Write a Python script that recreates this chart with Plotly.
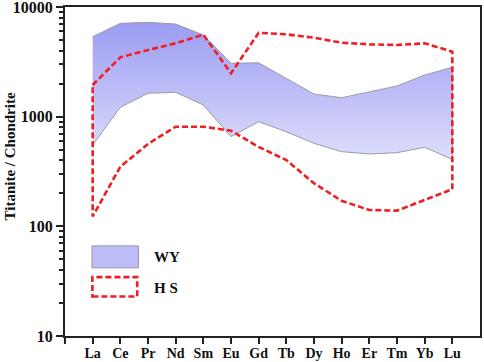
import plotly.graph_objects as go

elements = ["La", "Ce", "Pr", "Nd", "Sm", "Eu", "Gd", "Tb", "Dy", "Ho", "Er", "Tm", "Yb", "Lu"]
wy_upper = [5360, 7100, 7250, 7000, 5560, 3070, 3100, 2245, 1610, 1490, 1680, 1905, 2400, 2820]
wy_lower = [552, 1218, 1635, 1667, 1280, 658, 900, 729, 572, 480, 457, 470, 526, 409]
hs_upper = [1945, 3480, 4055, 4670, 5600, 2490, 5830, 5640, 5250, 4730, 4570, 4510, 4670, 3920]
hs_lower = [123, 350, 564, 811, 811, 745, 530, 402, 247, 171, 141, 139, 174, 218]
y_ticks = [10, 100, 1000, 10000]

xs = list(range(1, len(elements) + 1))
minor_vals = [m * d for d in y_ticks[:-1] for m in range(2, 10)]
FONT = "Liberation Serif"
RED = "#f01e23"

fig = go.Figure()
fig.add_trace(go.Scatter(
    x=xs + xs[::-1], y=wy_upper + wy_lower[::-1],
    mode="lines", fill="toself",
    line=dict(color="#9a9aa8", width=1),
    fillgradient=dict(type="vertical", colorscale=[[0, "#dedefc"], [1, "#9c9cf2"]]),
    hoverinfo="skip", showlegend=False,
))
fig.add_trace(go.Scatter(
    x=xs + xs[::-1] + [xs[0]], y=hs_upper + hs_lower[::-1] + [hs_upper[0]],
    mode="lines", line=dict(color=RED, width=2.6, dash="6px,3px"),
    showlegend=False,
))

# legend (drawn in paper coordinates)
fig.add_shape(type="rect", xref="paper", yref="paper", x0=0.065, x1=0.177, y0=0.207, y1=0.274,
              line=dict(color="#9a9aa8", width=1), fillcolor="#bcbcf7", layer="above")
fig.add_shape(type="rect", xref="paper", yref="paper", x0=0.066, x1=0.174, y0=0.120, y1=0.179,
              line=dict(color=RED, width=2.6, dash="6px,3px"), fillcolor="rgba(0,0,0,0)")
fig.add_annotation(xref="paper", yref="paper", x=0.209, y=0.241, text="<b>WY</b>", showarrow=False,
                   xanchor="left", yanchor="middle", font=dict(family=FONT, size=15, color="#111"))
fig.add_annotation(xref="paper", yref="paper", x=0.209, y=0.146, text="<b>H S</b>", showarrow=False,
                   xanchor="left", yanchor="middle", font=dict(family=FONT, size=15, color="#111"))
fig.add_annotation(xref="paper", yref="paper", x=-0.133, y=0.545, text="<b>Titanite / Chondrite</b>",
                   textangle=-90, showarrow=False, xanchor="center", yanchor="middle",
                   font=dict(family=FONT, size=15, color="#111"))

fig.update_xaxes(
    range=[0, len(elements) + 1], tickmode="array",
    tickvals=[0] + xs, ticktext=[""] + [f"<b>{e}</b>" for e in elements],
    ticks="outside", ticklen=6, tickwidth=2, tickcolor="#222",
    automargin=False, ticklabeloverflow="allow", ticklabelstandoff=-3,
    showline=True, linewidth=2, linecolor="#222", mirror=True,
    showgrid=False, zeroline=False,
    tickfont=dict(family=FONT, size=14, color="#111"),
)
fig.update_yaxes(
    type="log", range=[1, 4.0005], tickmode="array", tickvals=y_ticks,
    ticktext=[f"<b>{v}</b>" for v in y_ticks],
    ticks="outside", ticklen=7, tickwidth=2, tickcolor="#222",
    automargin=False, ticklabeloverflow="allow",
    minor=dict(tickmode="array", tickvals=minor_vals, ticks="outside", ticklen=4,
               tickwidth=1.5, tickcolor="#222", showgrid=False),
    showline=True, linewidth=2, linecolor="#222", mirror=True,
    showgrid=False, zeroline=False,
    tickfont=dict(family=FONT, size=16, color="#111"),
)
fig.update_layout(
    width=484, height=362,
    margin=dict(l=65, r=4, t=7, b=26),
    plot_bgcolor="white", paper_bgcolor="white",
    font=dict(family=FONT),
)
fig.write_html("out.html", config={"displayModeBar": False},
               post_script="document.body.style.margin='0';")
